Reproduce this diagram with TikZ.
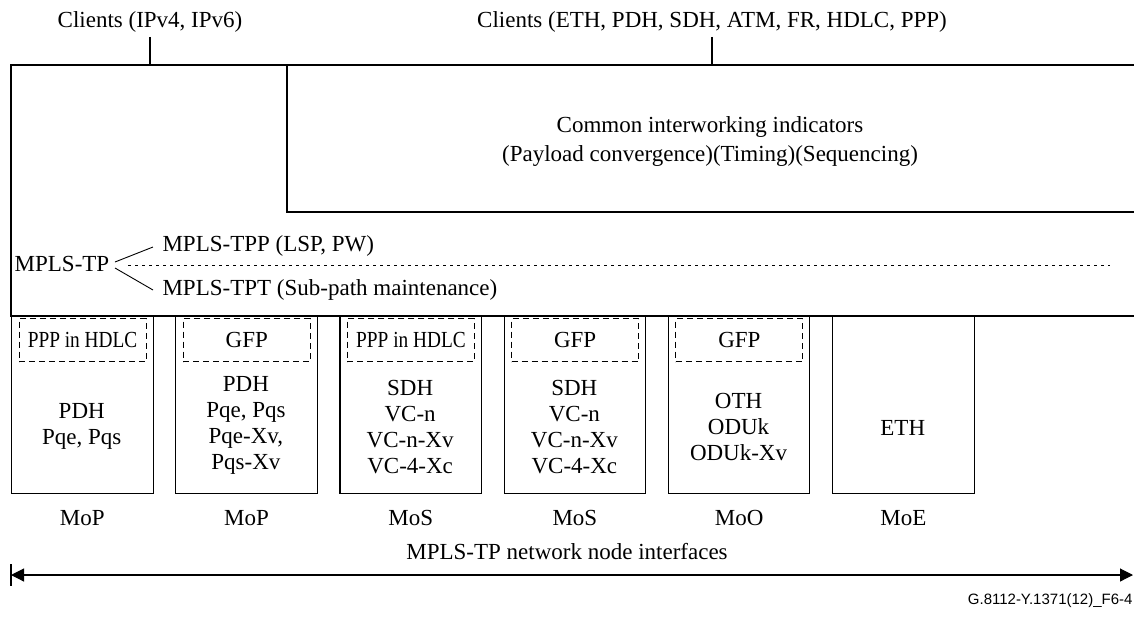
\documentclass[tikz,border=0pt]{standalone}
\usepackage{fontspec}
\usepackage{graphicx}
\setmainfont{Liberation Serif}
\newfontfamily\figsans{Liberation Sans}
\usetikzlibrary{arrows.meta}
\begin{document}
\begin{tikzpicture}[x=1pt,y=-1pt,line width=1.1pt,
  every node/.style={font=\fontsize{23}{26}\selectfont,inner sep=0pt},
  ifbox/.style={draw,minimum width=141.5pt,minimum height=177pt,anchor=north west},
  encbox/.style={draw,dash pattern=on 6pt off 4pt,minimum width=127pt,minimum height=43pt,anchor=north west},
  lbl/.style={align=center},
  dotline/.style={line width=0.8pt,dash pattern=on 3pt off 4pt},
  dimarrow/.style={{Triangle[length=13pt,width=13pt]}-{Triangle[length=13pt,width=13pt]}}]
\useasboundingbox (0,0) rectangle (1134,619);

% clients
\node (cA) at (150,22) {Clients (IPv4, IPv6)};
\node (cB) at (712,22) {Clients (ETH, PDH, SDH, ATM, FR, HDLC, PPP)};
\coordinate (cAin) at (150,65);
\coordinate (cBin) at (712,65);
\draw[shorten <=4pt] (cA.south) -- (cAin);
\draw[shorten <=4pt] (cB.south) -- (cBin);

% main frame
\coordinate (ftl) at (11,65);
\coordinate (ftr) at (1134,65);
\coordinate (fbl) at (11,316);
\coordinate (fbr) at (1134,316);
\draw (ftr) -- (ftl) -- (fbl) -- (fbr);

% inner frame
\coordinate (itl) at (287,65);
\coordinate (ibl) at (287,212);
\coordinate (ibr) at (1134,212);
\draw (itl) -- (ibl) -- (ibr);
\node[lbl,font=\fontsize{23}{29}\selectfont] (cii) at (710,141) {Common interworking indicators\\(Payload convergence)(Timing)(Sequencing)};

% MPLS-TP
\node (mpls) at (62,264) {MPLS-TP};
\node[anchor=west] (tpp) at (162,246) {MPLS-TPP (LSP, PW)};
\node[anchor=west] (tpt) at (162,290) {MPLS-TPT (Sub-path maintenance)};
\coordinate (brU) at (115,262);
\coordinate (brL) at (115,268);
\coordinate (brUe) at (153,247);
\coordinate (brLe) at (153,290);
\draw[line width=0.9pt] (brU) -- (brUe);
\draw[line width=0.9pt] (brL) -- (brLe);
\coordinate (dotS) at (128,265);
\coordinate (dotE) at (1110,265);
\draw[dotline] (dotS) -- (dotE);

% interface boxes
\node[ifbox] (b1) at (11,316) {};
\node[ifbox] (b2) at (175.2,316) {};
\node[ifbox] (b3) at (339.4,316) {};
\node[ifbox] (b4) at (503.6,316) {};
\node[ifbox] (b5) at (667.8,316) {};
\node[ifbox] (b6) at (832,316) {};

\node[encbox] (e1) at ([xshift=7.5pt,yshift=-2pt]b1.north west) {\scalebox{0.84}[1]{PPP in HDLC}};
\node[encbox] (e2) at ([xshift=7.5pt,yshift=-2pt]b2.north west) {GFP};
\node[encbox] (e3) at ([xshift=7.5pt,yshift=-2pt]b3.north west) {\scalebox{0.84}[1]{PPP in HDLC}};
\node[encbox] (e4) at ([xshift=7.5pt,yshift=-2pt]b4.north west) {GFP};
\node[encbox] (e5) at ([xshift=7.5pt,yshift=-2pt]b5.north west) {GFP};

\node[lbl] (t1) at (81.75,426) {PDH\\Pqe, Pqs};
\node[lbl] (t2) at (245.95,425) {PDH\\Pqe, Pqs\\Pqe-Xv,\\Pqs-Xv};
\node[lbl] (t3) at (410.15,427) {SDH\\VC-n\\VC-n-Xv\\VC-4-Xc};
\node[lbl] (t4) at (574.35,427) {SDH\\VC-n\\VC-n-Xv\\VC-4-Xc};
\node[lbl] (t5) at (738.55,427) {OTH\\ODUk\\ODUk-Xv};
\node[lbl] (t6) at (902.75,428) {ETH};

\node (m1) at ([yshift=-24pt]b1.south) {MoP};
\node (m2) at ([yshift=-24pt]b2.south) {MoP};
\node (m3) at ([yshift=-24pt]b3.south) {MoS};
\node (m4) at ([yshift=-24pt]b4.south) {MoS};
\node (m5) at ([yshift=-24pt]b5.south) {MoO};
\node (m6) at ([yshift=-24pt]b6.south) {MoE};

% bottom dimension arrow
\node (nni) at (567,552) {MPLS-TP network node interfaces};
\coordinate (aL) at (11,575);
\coordinate (aR) at (1133,575);
\coordinate (barT) at (11,564);
\coordinate (barB) at (11,586);
\draw (barT) -- (barB);
\draw[dimarrow] (aL) -- (aR);

\node[anchor=east,font=\figsans\fontsize{15}{18}\selectfont] (fid) at (1133,601) {G.8112-Y.1371(12)\_F6-4};
\end{tikzpicture}
\end{document}
